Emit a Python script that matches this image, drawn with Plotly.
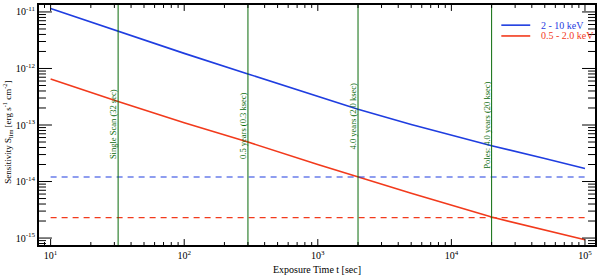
import numpy as np
import plotly.graph_objects as go

# Exposure times [sec]
t = [10, 32, 100, 300, 1000, 2000, 5000, 20000, 50000, 100000]
# Sensitivity curves [erg s^-1 cm^-2]
s_hard = [1.15e-11, 4.5e-12, 1.85e-12, 8.0e-13, 3.2e-13, 1.9e-13, 1.02e-13, 4.3e-14, 2.55e-14, 1.7e-14]
s_soft = [6.5e-13, 2.6e-13, 1.1e-13, 5.0e-14, 2.0e-14, 1.2e-14, 6.2e-15, 2.35e-15, 1.38e-15, 0.93e-15]
# Horizontal limits
lim_t = [10, 100000]
lim_hard = 1.2e-14
lim_soft = 2.3e-15
# Survey exposure markers
mark_t = [32, 300, 2000, 20000]
mark_labels = ["Single Scan (32 sec)", "0.5 years (0.3 ksec)", "4.0 years (2.0 ksec)", "Poles: 4.0 years (20 ksec)"]
mark_label_y = [0.35, 0.35, 0.39, 0.31]

series_names = ["2 - 10 keV", "0.5 - 2.0 keV"]
BLUE = "#1f3de0"
RED = "#f23a1c"
GREEN = "#0a6a0a"
FONT = "Liberation Serif"

xt = [10, 100, 1000, 10000, 100000]
xt_text = ["10<sup>1</sup>", "10<sup>2</sup>", "10<sup>3</sup>", "10<sup>4</sup>", "10<sup>5</sup>"]
yt = [1e-15, 1e-14, 1e-13, 1e-12, 1e-11]
yt_text = ["10<sup>-15</sup>", "10<sup>-14</sup>", "10<sup>-13</sup>", "10<sup>-12</sup>", "10<sup>-11</sup>"]
XR = [0.913, 5.075]
YR = [-15.123, -10.877]
x_minor = [m * 10.0 ** e for e in range(0, 6) for m in range(2, 10)
           if XR[0] < np.log10(m * 10.0 ** e) < XR[1]]
y_minor = [m * 10.0 ** e for e in range(-16, -10) for m in range(2, 10)
           if YR[0] < np.log10(m * 10.0 ** e) < YR[1]]

W, H = 600, 275
ML, MR, MT, MB = 39, 3, 3, 30
PW, PH = W - ML - MR, H - MT - MB

fig = go.Figure()
fig.add_trace(go.Scatter(x=t, y=s_hard, mode="lines", line=dict(color=BLUE, width=1.6), showlegend=False))
fig.add_trace(go.Scatter(x=t, y=s_soft, mode="lines", line=dict(color=RED, width=1.6), showlegend=False))
fig.add_trace(go.Scatter(x=lim_t, y=[lim_hard, lim_hard], mode="lines",
                         line=dict(color=BLUE, width=1.1, dash="6px,5px"), showlegend=False))
fig.add_trace(go.Scatter(x=lim_t, y=[lim_soft, lim_soft], mode="lines",
                         line=dict(color=RED, width=1.1, dash="6px,5px"), showlegend=False))

for mt, lab, ly in zip(mark_t, mark_labels, mark_label_y):
    fig.add_vline(x=mt, line=dict(color=GREEN, width=1))
    fig.add_annotation(x=np.log10(mt), xref="x", y=ly, yref="paper", text=lab, textangle=-90,
                       showarrow=False, xanchor="center", yanchor="bottom", xshift=-5,
                       font=dict(family=FONT, size=8.5, color=GREEN))

# Tick marks on all four sides (inside), drawn along the axes' own scales
def xticks(vals, length_px):
    f = length_px / PH
    for v in vals:
        for y0, y1 in [(0, f), (1, 1 - f)]:
            fig.add_shape(type="line", xref="x", yref="paper", x0=v, x1=v, y0=y0, y1=y1,
                          line=dict(color="black", width=1))

def yticks(vals, length_px):
    f = length_px / PW
    for v in vals:
        for x0, x1 in [(0, f), (1, 1 - f)]:
            fig.add_shape(type="line", xref="paper", yref="y", x0=x0, x1=x1, y0=v, y1=v,
                          line=dict(color="black", width=1))

xticks(xt, 6)
xticks(x_minor, 3)
yticks(yt, 13)
yticks(y_minor, 7)

# Legend (manual)
leg_y = [0.916, 0.871]
for name, col, yy in zip(series_names, [BLUE, RED], leg_y):
    fig.add_shape(type="line", xref="paper", yref="paper", x0=0.8315, x1=0.8835, y0=yy, y1=yy,
                  line=dict(color=col, width=1.6))
    fig.add_annotation(x=0.899, y=yy, xref="paper", yref="paper", text=name, showarrow=False,
                       xanchor="left", yanchor="middle", font=dict(family=FONT, size=10, color=col))

fig.update_layout(
    xaxis=dict(type="log", range=XR, tickmode="array", tickvals=xt, ticktext=xt_text,
               ticks="", showline=True, linewidth=2, linecolor="black", mirror=True,
               showgrid=False, zeroline=False, tickfont=dict(family=FONT, size=10, color="black")),
    yaxis=dict(type="log", range=YR, tickmode="array", tickvals=yt, ticktext=yt_text,
               ticks="", showline=True, linewidth=2, linecolor="black", mirror=True,
               showgrid=False, zeroline=False, tickfont=dict(family=FONT, size=10, color="black")),
)

fig.add_annotation(x=0.5, y=-0.1, xref="paper", yref="paper", text="Exposure Time t [sec]",
                   showarrow=False, xanchor="center", yanchor="middle", font=dict(family=FONT, size=10, color="black"))
fig.add_annotation(x=-0.056, y=0.471, xref="paper", yref="paper",
                   text="Sensitivity S<sub>lim</sub> [erg s<sup>-1</sup> cm<sup>-2</sup>]", textangle=-90,
                   showarrow=False, xanchor="center", yanchor="middle", font=dict(family=FONT, size=9, color="black"))

fig.update_layout(width=W, height=H, margin=dict(l=ML, r=MR, t=MT, b=MB),
                  plot_bgcolor="white", paper_bgcolor="white", showlegend=False)
fig.write_html("out.html", config={"displayModeBar": False},
               post_script="document.body.style.margin='0px';document.body.style.overflow='hidden';")
